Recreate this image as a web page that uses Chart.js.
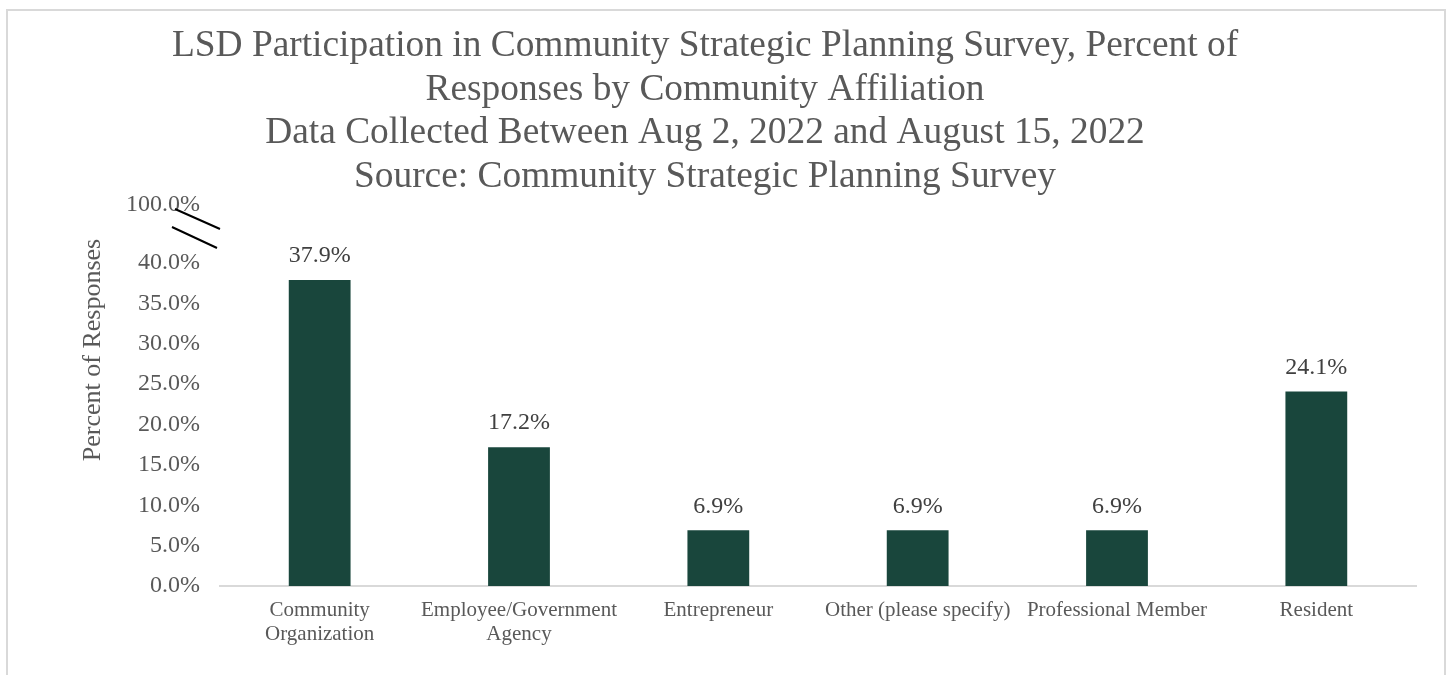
<!DOCTYPE html>
<html>
<head>
<meta charset="utf-8">
<script src="https://cdn.jsdelivr.net/npm/chart.js@4"></script>
<style>
    body { margin: 0; background: #fff; overflow: hidden; }
    #frame {
        position: absolute; left: 6px; top: 9px;
        width: 1436px; height: 680px;
        border: 2px solid #d9d9d9;
    }
    canvas { display: block; }
</style>
</head>
<body>
<div id="frame"><canvas id="affiliationChart" width="1436" height="664"></canvas></div>
<script>
// Chart data
const categories = [
    ['Community', 'Organization'],
    ['Employee/Government', 'Agency'],
    'Entrepreneur',
    'Other (please specify)',
    'Professional Member',
    'Resident'
];
const percentResponses = [37.9, 17.2, 6.9, 6.9, 6.9, 24.1];
const yTickValues = [0, 5, 10, 15, 20, 25, 30, 35, 40];
const breakTickLabel = '100.0%';
const titleLines = [
    'LSD Participation in Community Strategic Planning Survey, Percent of',
    'Responses by Community Affiliation',
    'Data Collected Between Aug 2, 2022 and August 15, 2022',
    'Source: Community Strategic Planning Survey'
];
const yAxisTitle = 'Percent of Responses';

const SERIF = "'Liberation Serif', 'Times New Roman', serif";
const TEXT_GREY = '#595959';
const BAR_GREEN = '#19463c';
const BREAK_VALUE = 47.2; // top of the axis, shown as the broken 100% mark

// Title, axis title, axis break and value labels
const decorations = {
    id: 'decorations',
    afterDraw(chart) {
        const ctx = chart.ctx;
        const area = chart.chartArea;
        const yScale = chart.scales.y;

        ctx.save();
        ctx.fillStyle = TEXT_GREY;
        ctx.textAlign = 'center';
        ctx.textBaseline = 'middle';
        ctx.font = `37.4px ${SERIF}`;
        titleLines.forEach((line, i) => {
            ctx.fillText(line, 697, 35 + i * 43.7);
        });

        // rotated y axis title
        ctx.save();
        ctx.translate(85, 339);
        ctx.rotate(-Math.PI / 2);
        ctx.font = `26px ${SERIF}`;
        ctx.fillText(yAxisTitle, 0, 0);
        ctx.restore();

        // break marks next to the 100% label
        const L = area.left;
        const T = yScale.getPixelForValue(BREAK_VALUE);
        ctx.strokeStyle = '#000';
        ctx.lineWidth = 2;
        ctx.beginPath();
        ctx.moveTo(L - 45, T + 4);
        ctx.lineTo(L, T + 24);
        ctx.moveTo(L - 48, T + 22);
        ctx.lineTo(L - 3, T + 43);
        ctx.stroke();

        // value labels above bars
        ctx.fillStyle = '#404040';
        ctx.font = `24px ${SERIF}`;
        const meta = chart.getDatasetMeta(0);
        meta.data.forEach((bar, i) => {
            ctx.fillText(percentResponses[i].toFixed(1) + '%', bar.x, bar.y - 24);
        });
        ctx.restore();
    }
};

new Chart(document.getElementById('affiliationChart'), {
    type: 'bar',
    data: {
        labels: categories,
        datasets: [{
            data: percentResponses,
            backgroundColor: BAR_GREEN,
            barPercentage: 0.31,
            categoryPercentage: 1
        }]
    },
    options: {
        responsive: false,
        devicePixelRatio: 1,
        animation: false,
        layout: { padding: { top: 194, right: 28, left: 0, bottom: 0 } },
        plugins: {
            legend: { display: false },
            title: { display: false },
            tooltip: { enabled: false }
        },
        scales: {
            x: {
                grid: { display: false, drawTicks: false },
                border: { display: true, color: '#d9d9d9', width: 2 },
                ticks: {
                    color: TEXT_GREY,
                    font: { family: SERIF, size: 21, lineHeight: 1.15 },
                    padding: 12,
                    maxRotation: 0,
                    autoSkip: false
                },
                afterFit(scale) { scale.height = 89; }
            },
            y: {
                min: 0,
                max: BREAK_VALUE,
                grid: { display: false, drawTicks: false },
                border: { display: false },
                ticks: {
                    color: TEXT_GREY,
                    font: { family: SERIF, size: 24 },
                    padding: 20,
                    callback: (value) => value === BREAK_VALUE ? breakTickLabel : value.toFixed(1) + '%'
                },
                afterBuildTicks(scale) {
                    scale.ticks = yTickValues.concat([BREAK_VALUE]).map(v => ({ value: v }));
                },
                afterFit(scale) { scale.width = 212; }
            }
        }
    },
    plugins: [decorations]
});
</script>
</body>
</html>
